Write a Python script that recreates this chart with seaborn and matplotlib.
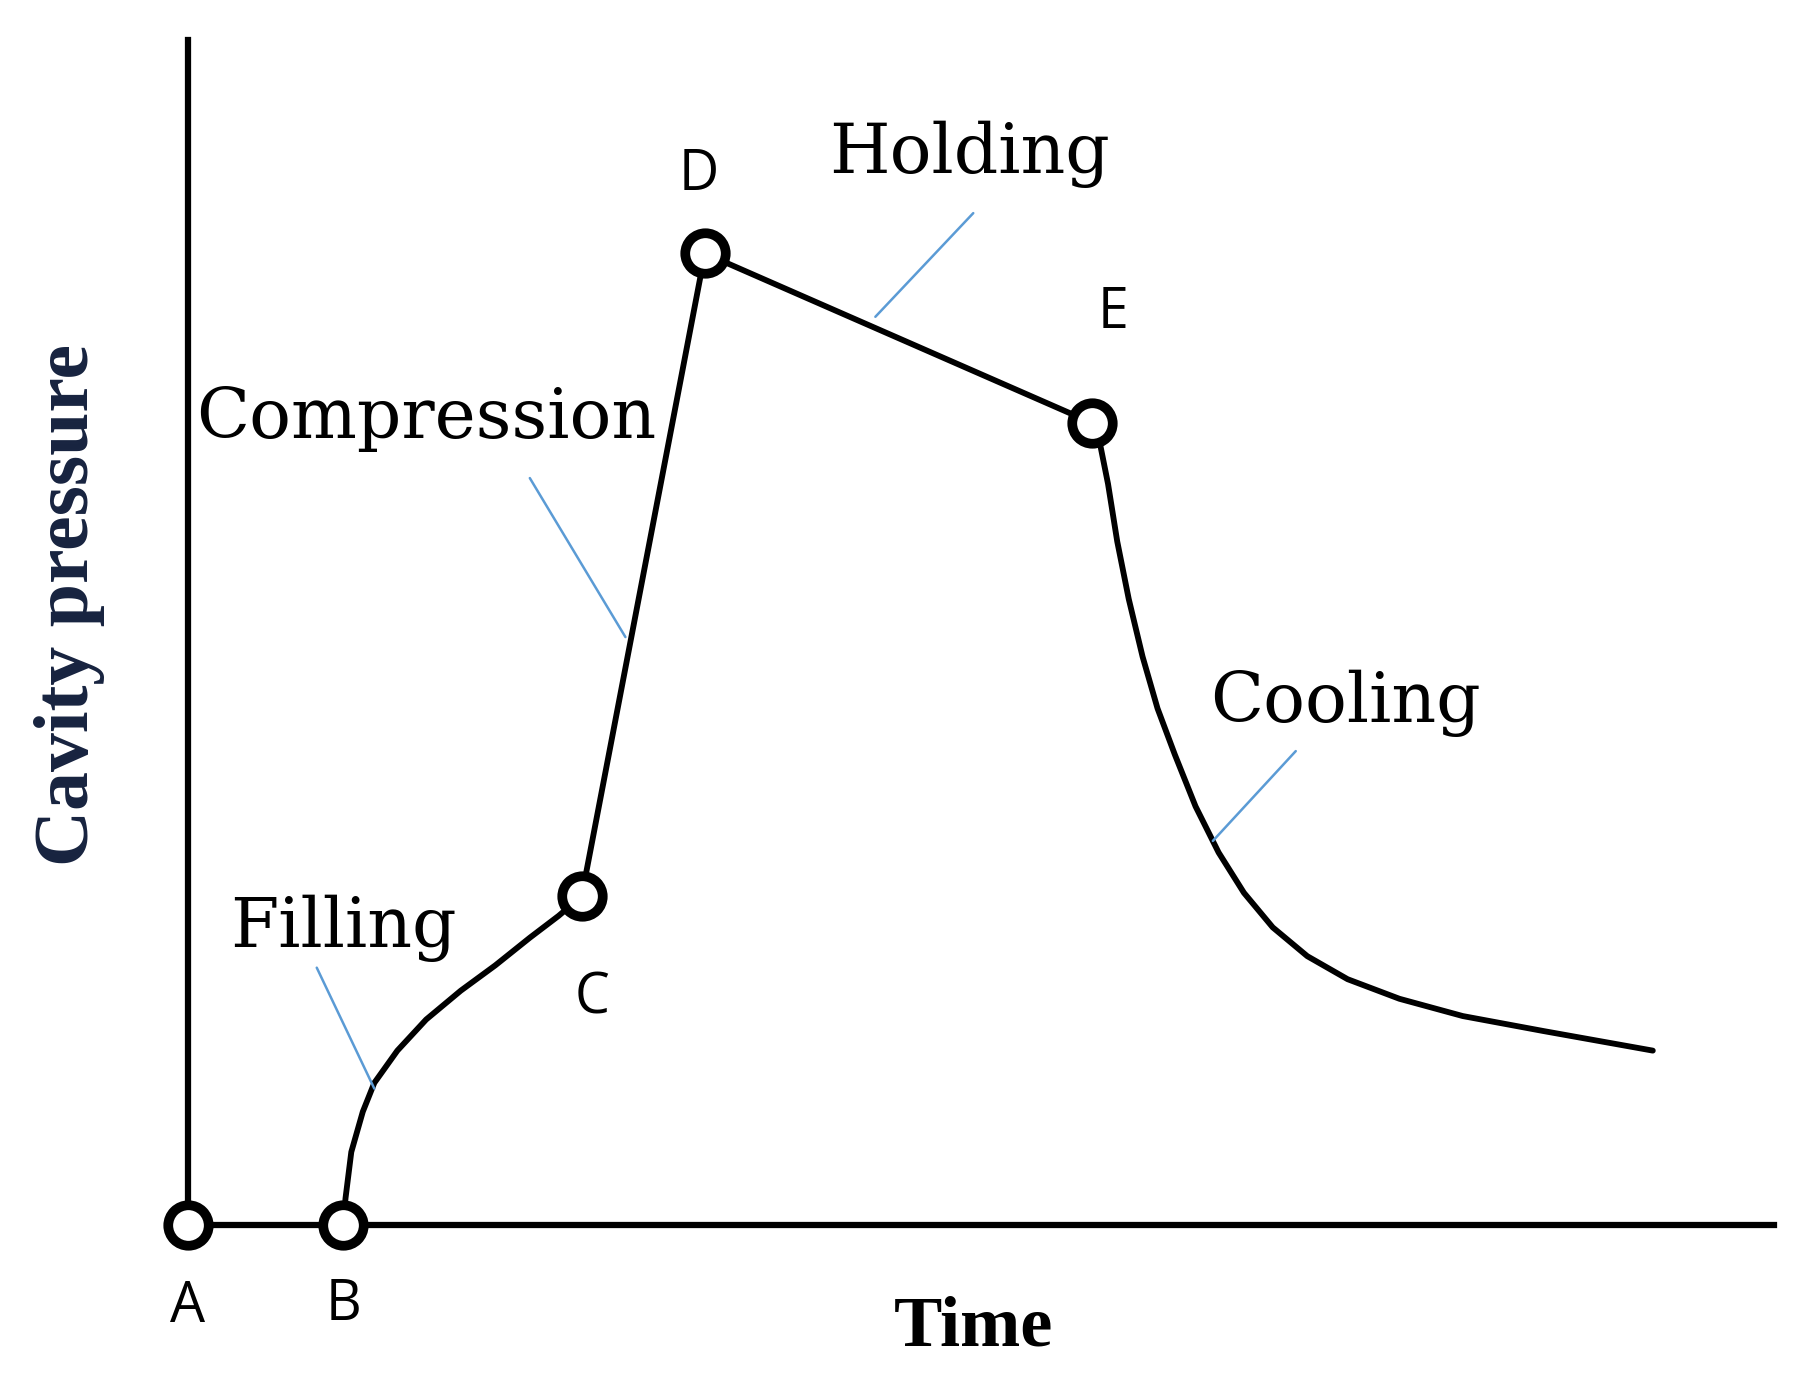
import pandas as pd
import seaborn as sns
import matplotlib.pyplot as plt

# cavity pressure curve (arbitrary units)
fill_time = [1.35, 1.37, 1.42, 1.52, 1.62, 1.82, 2.07, 2.37, 2.67, 2.97, 3.22, 3.42]
fill_pressure = [0.0, 0.23, 0.63, 0.98, 1.23, 1.51, 1.78, 2.03, 2.25, 2.49, 2.68, 2.85]

comp_hold_time = [4.49, 7.85]
comp_hold_pressure = [8.43, 6.96]

cool_time = [7.92, 7.99, 8.07, 8.17, 8.29, 8.42, 8.57, 8.75, 8.95, 9.17,
             9.42, 9.72, 10.07, 10.52, 11.07, 11.77, 12.72]
cool_pressure = [6.78, 6.43, 5.93, 5.43, 4.93, 4.48, 4.08, 3.63, 3.23, 2.88,
                 2.58, 2.33, 2.13, 1.96, 1.81, 1.68, 1.51]

# key points A..E
point_names = ["A", "B", "C", "D", "E"]
point_time = [0.0, 1.35, 3.42, 4.49, 7.85]
point_pressure = [0.0, 0.0, 2.85, 8.43, 6.96]

# phase labels and their leader lines (start -> end on curve)
phase_names = ["Filling", "Compression", "Holding", "Cooling"]
phase_text_pos = [(1.35, 2.41), (2.07, 6.83), (6.79, 9.13), (10.05, 4.36)]
leader_start = [(1.12, 2.23), (2.97, 6.48), (6.82, 8.78), (9.62, 4.11)]
leader_end = [(1.62, 1.18), (3.80, 5.10), (5.97, 7.88), (8.90, 3.33)]

time_max = 13.77
pressure_max = 10.28

sns.set_style("white")
plt.rcParams["font.family"] = ["DejaVu Serif"]
plt.rcParams["text.color"] = "black"

fig = plt.figure(figsize=(18.06, 13.87), dpi=100)
ax = fig.add_axes([0, 0, 1, 1])

curve = pd.DataFrame({
    "time": fill_time + comp_hold_time + cool_time,
    "pressure": fill_pressure + comp_hold_pressure + cool_pressure,
})
sns.lineplot(data=curve, x="time", y="pressure", sort=False, estimator=None,
             color="black", linewidth=4.2, ax=ax)
ax.lines[-1].set_solid_joinstyle("round")

for (x0, y0), (x1, y1) in zip(leader_start, leader_end):
    ax.plot([x0, x1], [y0, y1], color="#5b9bd5", linewidth=1.8)

pts = pd.DataFrame({"time": point_time, "pressure": point_pressure})
sns.scatterplot(data=pts, x="time", y="pressure", s=850, marker="o",
                facecolor="white", edgecolor="black", linewidth=7,
                zorder=5, ax=ax)

# point letters
letter_offsets = {"A": (0.0, -0.85), "B": (0.0, -0.83), "C": (0.09, -1.02),
                  "D": (-0.05, 0.55), "E": (0.18, 0.82)}
for name, x, y in zip(point_names, point_time, point_pressure):
    dx, dy = letter_offsets[name]
    ax.text(x + dx, y + dy, name, ha="center", va="baseline",
            fontsize=40, family=["Open Sans", "DejaVu Sans"])

for name, (x, y) in zip(phase_names, phase_text_pos):
    ax.text(x, y, name, ha="center", va="baseline", fontsize=50,
            family=["DejaVu Serif"])

ax.text(6.82, -1.05, "Time", ha="center", va="baseline", fontsize=52,
        fontweight="bold", family=["Liberation Serif"])
ax.text(-1.03, 5.38, "Cavity pressure", ha="center", va="center",
        rotation=90, fontsize=56, fontweight="bold", color="#17233f",
        family=["Liberation Serif"])

# axes drawn as spines through the origin
for side in ["top", "right"]:
    ax.spines[side].set_visible(False)
ax.spines["left"].set_position(("data", 0))
ax.spines["bottom"].set_position(("data", 0))
ax.spines["left"].set_bounds(0, pressure_max)
ax.spines["bottom"].set_bounds(0, time_max)
for side in ["left", "bottom"]:
    ax.spines[side].set_linewidth(4.5)
    ax.spines[side].set_color("black")
ax.set_xticks([])
ax.set_yticks([])
ax.set_xlabel("")
ax.set_ylabel("")
ax.set_xlim(-1.63, 14.05)
ax.set_ylim(-1.41, 10.63)

fig.savefig("out.png", dpi=100)
